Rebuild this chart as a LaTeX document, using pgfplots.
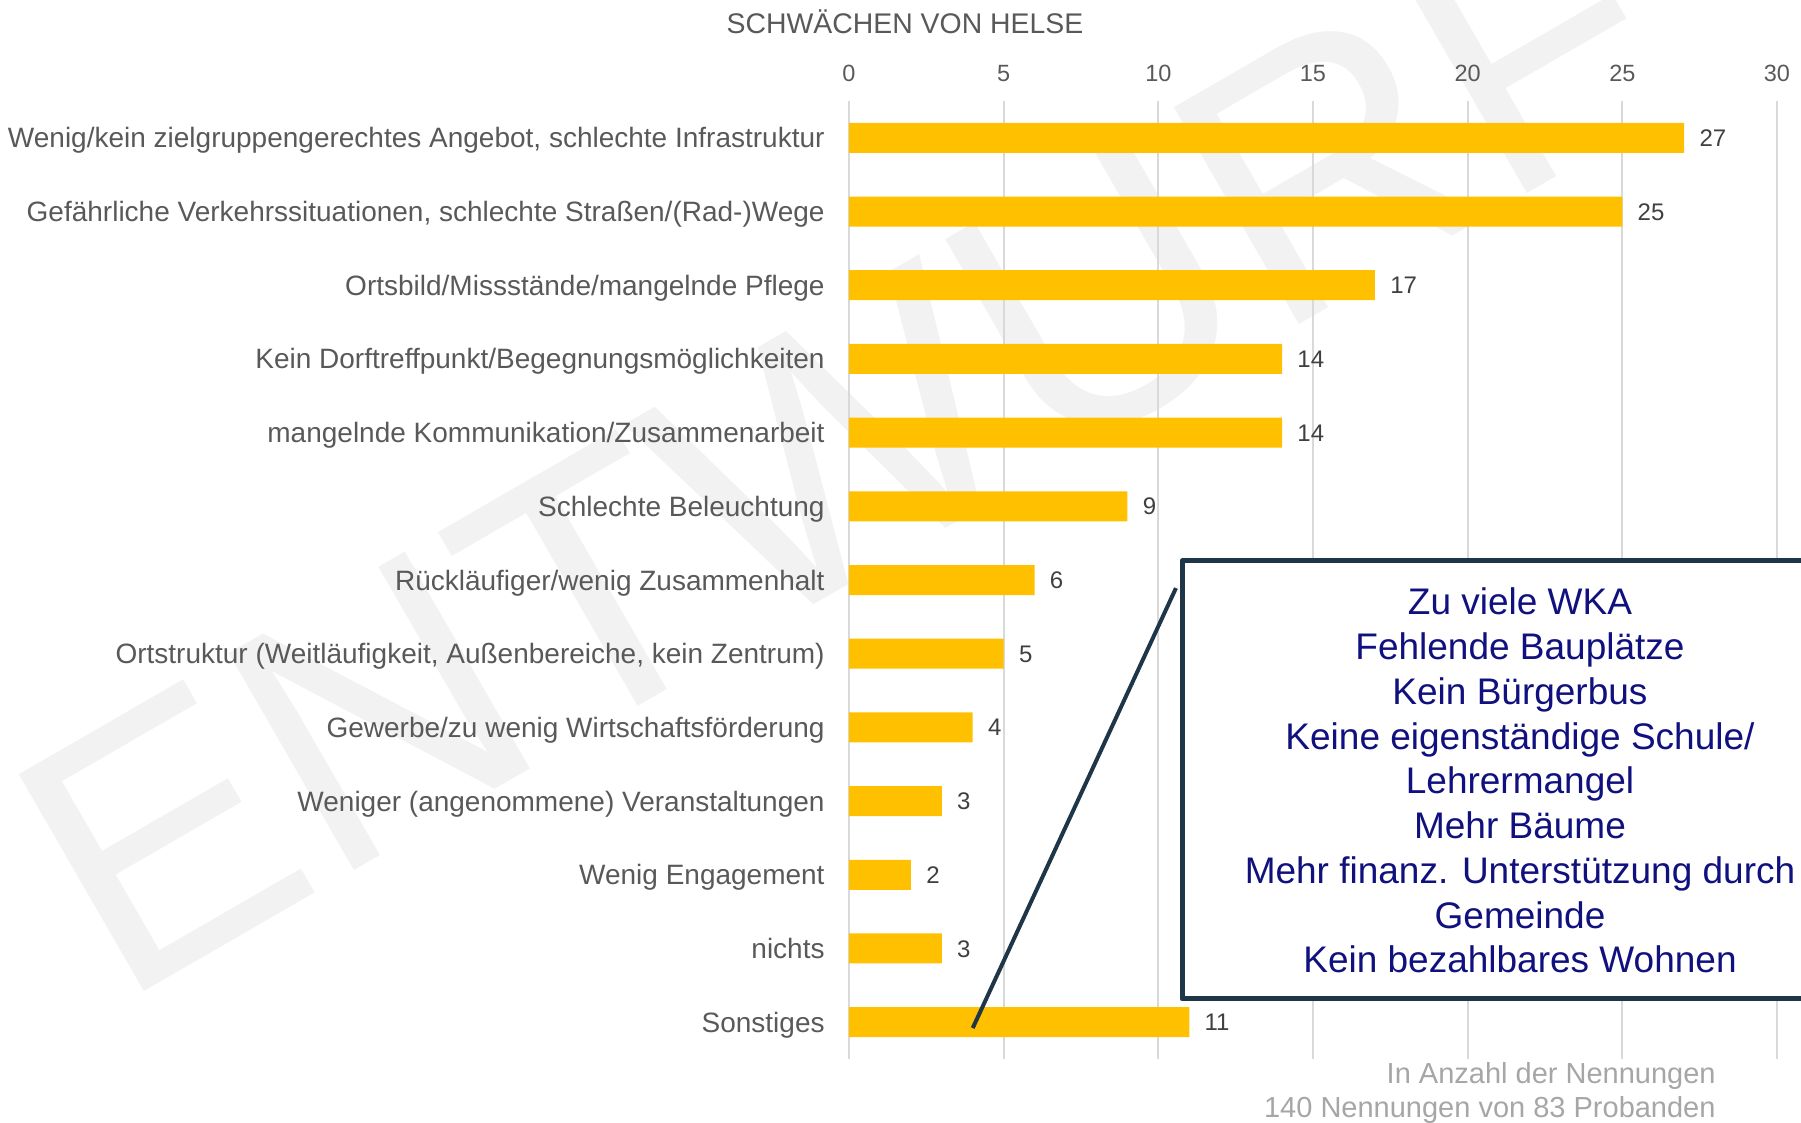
\documentclass[border=0pt]{standalone}
\usepackage{fontspec}
\setmainfont{Liberation Sans}
\usepackage{pgfplots}
\pgfplotsset{compat=1.18}
\definecolor{barc}{HTML}{FFC000}
\definecolor{lab}{HTML}{595959}
\definecolor{dlab}{HTML}{404040}
\definecolor{gridc}{HTML}{D9D9D9}
\definecolor{navy}{HTML}{1F3649}
\definecolor{btext}{HTML}{10107F}
\definecolor{wm}{HTML}{F2F2F2}
\definecolor{note}{HTML}{A6A6A6}
\begin{document}
\begin{tikzpicture}[x=1pt,y=1pt]
\node[text=wm, font=\fontsize{182}{182}\selectfont, rotate=30, anchor=base west, inner sep=0pt] at (59,58) {ENTWURF};
\begin{axis}[
  at={(424.5pt,32pt)}, anchor=south west,
  scale only axis, width=464pt, height=479pt,
  xbar, bar width=15pt,
  xmin=0, xmax=30, ymin=-0.5, ymax=12.5, y dir=reverse,
  xtick={0,5,...,30}, ytick={0,...,12},
  yticklabels={{Wenig/kein zielgruppengerechtes Angebot, schlechte Infrastruktur},
    {Gefährliche Verkehrssituationen, schlechte Straßen/(Rad-)Wege},
    {Ortsbild/Missstände/mangelnde Pflege},
    {Kein Dorftreffpunkt/Begegnungsmöglichkeiten},
    {mangelnde Kommunikation/Zusammenarbeit},
    {Schlechte Beleuchtung},
    {Rückläufiger/wenig Zusammenhalt},
    {Ortstruktur (Weitläufigkeit, Außenbereiche, kein Zentrum)},
    {Gewerbe/zu wenig Wirtschaftsförderung},
    {Weniger (angenommene) Veranstaltungen},
    {Wenig Engagement},
    {nichts},
    {Sonstiges}},
  xticklabel pos=upper,
  axis line style={draw=none},
  major tick length=0pt,
  xmajorgrids, grid style={gridc, line width=0.85pt},
  /pgf/number format/assume math mode=true,
  xticklabel style={font=\fontsize{11.75}{14}\selectfont, text=lab, anchor=base, inner sep=0pt, yshift=9.7pt},
  yticklabel style={font=\fontsize{14}{16.8}\selectfont, text=lab, anchor=base east, inner sep=0pt, xshift=-12pt, yshift=-5pt},
  nodes near coords,
  every node near coord/.append style={font=\fontsize{12}{14}\selectfont, text=dlab, anchor=base west, inner sep=0pt, xshift=7.5pt, yshift=-4.3pt},
]
\addplot[fill=barc, draw=none] coordinates {(27,0) (25,1) (17,2) (14,3) (14,4) (9,5) (6,6) (5,7) (4,8) (3,9) (2,10) (3,11) (11,12)};
\draw[navy, line width=2pt] (axis cs:4.0,12.08) -- (axis cs:10.57,6.11);
\end{axis}
\draw[navy, line width=2.5pt, fill=white, line join=round] (591,62) rectangle (920,281);
\foreach \t [count=\i from 0] in {Zu viele WKA, Fehlende Bauplätze, Kein Bürgerbus, Keine eigenständige Schule/, Lehrermangel, Mehr Bäume, Mehr finanz. Unterstützung durch, Gemeinde, Kein bezahlbares Wohnen}
  \node[text=btext, font=\fontsize{18.5}{22}\selectfont, anchor=base, inner sep=0pt] at (760, 254-22.375*\i) {\t};
\node[text=lab, font=\fontsize{14.2}{17}\selectfont, anchor=base, inner sep=0pt] at (452.5,544.8) {SCHWÄCHEN VON HELSE};
\node[text=note, font=\fontsize{14.5}{17}\selectfont, anchor=base east, inner sep=0pt] at (858,19.85) {In Anzahl der Nennungen};
\node[text=note, font=\fontsize{14.5}{17}\selectfont, anchor=base east, inner sep=0pt] at (858,2.6) {140 Nennungen von 83 Probanden};
\pgfresetboundingbox
\useasboundingbox (0,0) rectangle (900.5,561.5);
\end{tikzpicture}
\end{document}
